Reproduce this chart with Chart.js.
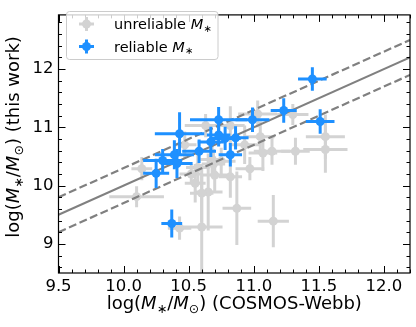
<!DOCTYPE html>
<html>
<head>
<meta charset="utf-8">
<script src="https://cdn.jsdelivr.net/npm/chart.js@4.4.1/dist/chart.umd.min.js"></script>
<style>
  html, body { margin: 0; padding: 0; background: #fff; }
</style>
</head>
<body>
<canvas id="myChart" width="416" height="327"></canvas>
<script>
// unreliable stellar masses (grey)
const unreliableX    = [11.55, 11.55, 11.32, 11.14, 11.07, 11.05, 11.30, 11.03, 10.82, 10.70, 10.69, 10.65, 10.60, 10.87, 11.15, 10.60, 10.43, 10.10, 10.52, 10.57, 10.68, 10.75, 10.14, 10.82, 10.63, 10.93, 10.47, 10.97, 10.55];
const unreliableY    = [10.84, 10.62, 10.59, 10.59, 10.56, 10.84, 11.22, 11.23, 10.15, 10.18, 10.37, 9.89, 9.87, 9.61, 9.39, 9.29, 9.27, 9.81, 10.20, 10.31, 10.45, 10.42, 10.29, 11.03, 11.03, 10.70, 10.70, 10.29, 10.04];
const unreliableXErr = [0.15, 0.17, 0.11, 0.14, 0.11, 0.11, 0.12, 0.15, 0.09, 0.11, 0.09, 0.11, 0.09, 0.11, 0.12, 0.16, 0.09, 0.21, 0.09, 0.09, 0.09, 0.11, 0.08, 0.11, 0.16, 0.12, 0.09, 0.11, 0.08];
const unreliableYErr = [0.38, 0.40, 0.23, 0.23, 0.31, 0.26, 0.18, 0.23, 0.36, 0.30, 0.26, 0.66, 0.50, 0.63, 0.45, 0.90, 0.20, 0.18, 0.17, 0.25, 0.25, 0.23, 0.20, 0.33, 0.20, 0.33, 0.23, 0.20, 0.33];

// reliable stellar masses (blue)
const reliableX    = [11.45, 11.23, 11.51, 10.99, 10.73, 10.43, 10.73, 10.67, 10.78, 10.86, 10.58, 10.82, 10.39, 10.30, 10.41, 10.25, 10.37];
const reliableY    = [11.83, 11.29, 11.10, 11.13, 11.13, 10.89, 10.87, 10.75, 10.81, 10.82, 10.59, 10.53, 10.53, 10.43, 10.38, 10.21, 9.35];
const reliableXErr = [0.11, 0.10, 0.11, 0.13, 0.22, 0.19, 0.09, 0.10, 0.12, 0.10, 0.13, 0.09, 0.15, 0.15, 0.12, 0.10, 0.08];
const reliableYErr = [0.20, 0.21, 0.21, 0.21, 0.22, 0.37, 0.20, 0.26, 0.20, 0.20, 0.20, 0.20, 0.25, 0.20, 0.25, 0.25, 0.24];

// one-to-one line and +-0.3 dex envelope
const lineX  = [9.5, 12.2];
const lineY  = [9.5, 12.2];
const upperY = [9.8, 12.5];
const lowerY = [9.2, 11.9];

const xTicks = [9.5, 10.0, 10.5, 11.0, 11.5, 12.0];
const yTicks = [9, 10, 11, 12];

const FONT = '"DejaVu Sans", sans-serif';
const grey = '#d3d3d3';
const blue = '#1e90ff';

function pts(xs, ys) { return xs.map((x, i) => ({ x: x, y: ys[i] })); }

const errorBars = {
  id: 'errorBars',
  beforeDatasetDraw(chart, args) {
    const ds = chart.data.datasets[args.index];
    if (!ds.xErr) return;
    const xs = chart.scales.x, ys = chart.scales.y, ctx = chart.ctx, a = chart.chartArea;
    ctx.save();
    ctx.beginPath();
    ctx.rect(a.left, a.top, a.right - a.left, a.bottom - a.top);
    ctx.clip();
    ctx.strokeStyle = ds.backgroundColor;
    ctx.lineWidth = 3;
    ds.data.forEach((p, i) => {
      const px = xs.getPixelForValue(p.x), py = ys.getPixelForValue(p.y);
      ctx.beginPath();
      ctx.moveTo(xs.getPixelForValue(p.x - ds.xErr[i]), py);
      ctx.lineTo(xs.getPixelForValue(p.x + ds.xErr[i]), py);
      ctx.moveTo(px, ys.getPixelForValue(p.y - ds.yErr[i]));
      ctx.lineTo(px, ys.getPixelForValue(p.y + ds.yErr[i]));
      ctx.stroke();
    });
    ctx.restore();
  }
};

// text pieces: n = normal, i = italic, s = subscript
function fontFor(p, size) {
  if (p.k === 'i') return 'italic ' + size + 'px ' + FONT;
  if (p.k === 's') return (size * 0.7) + 'px ' + FONT;
  return size + 'px ' + FONT;
}
function richWidth(ctx, parts, size) {
  let w = 0;
  parts.forEach(p => { ctx.font = fontFor(p, size); w += ctx.measureText(p.t).width; });
  return w;
}
function drawRich(ctx, parts, x, y, size) {
  parts.forEach(p => {
    ctx.font = fontFor(p, size);
    ctx.fillText(p.t, x, p.k === 's' ? y + size * 0.2 : y);
    x += ctx.measureText(p.t).width;
  });
}
const mStar = [{ t: 'M', k: 'i' }, { t: '\u2217', k: 's' }];
const massLabel = [{ t: 'log(', k: 'n' }].concat(mStar, [{ t: '/', k: 'n' }, { t: 'M', k: 'i' }, { t: '\u2299', k: 's' }]);
const xTitle = massLabel.concat([{ t: ') (COSMOS-Webb)', k: 'n' }]);
const yTitle = massLabel.concat([{ t: ') (this work)', k: 'n' }]);

const decorations = {
  id: 'decorations',
  afterDraw(chart) {
    const ctx = chart.ctx, a = chart.chartArea, xs = chart.scales.x, ys = chart.scales.y;
    ctx.save();
    // inward ticks on all sides
    ctx.strokeStyle = '#000';
    ctx.lineWidth = 1;
    const tick = (x1, y1, x2, y2) => { ctx.beginPath(); ctx.moveTo(x1, y1); ctx.lineTo(x2, y2); ctx.stroke(); };
    for (let v = 9.5; v <= 12.2001; v += 0.1) {
      const major = xTicks.some(t => Math.abs(t - v) < 1e-6);
      const len = major ? 7 : 3.5;
      const px = Math.round(xs.getPixelForValue(v)) + 0.5;
      tick(px, a.bottom, px, a.bottom - len);
      tick(px, a.top, px, a.top + len);
    }
    for (let v = 8.6; v <= 12.9; v += 0.2) {
      const major = yTicks.some(t => Math.abs(t - v) < 1e-6);
      const len = major ? 7 : 3.5;
      const py = Math.round(ys.getPixelForValue(v)) + 0.5;
      tick(a.left, py, a.left + len, py);
      tick(a.right, py, a.right - len, py);
    }
    ctx.lineWidth = 1.2;
    ctx.strokeRect(a.left, a.top, a.right - a.left, a.bottom - a.top);

    // axis titles
    ctx.fillStyle = '#000';
    ctx.textBaseline = 'alphabetic';
    ctx.textAlign = 'left';
    const ts = 18;
    const wx = richWidth(ctx, xTitle, ts);
    drawRich(ctx, xTitle, (a.left + a.right) / 2 - wx / 2, 309, ts);
    const wy = richWidth(ctx, yTitle, ts);
    ctx.save();
    ctx.translate(19, (a.top + a.bottom) / 2 - 7);
    ctx.rotate(-Math.PI / 2);
    drawRich(ctx, yTitle, -wy / 2, 0, ts);
    ctx.restore();

    // legend
    const lx = 66.5, ly = 11.5, lw = 151.5, lh = 48;
    ctx.beginPath();
    ctx.roundRect(lx, ly, lw, lh, 3);
    ctx.fillStyle = 'rgba(255,255,255,0.8)';
    ctx.fill();
    ctx.strokeStyle = '#cccccc';
    ctx.lineWidth = 1;
    ctx.stroke();
    const entry = (color, cy, label) => {
      ctx.strokeStyle = color;
      ctx.fillStyle = color;
      ctx.lineWidth = 3;
      ctx.beginPath();
      ctx.moveTo(79, cy); ctx.lineTo(94, cy);
      ctx.moveTo(86.5, cy - 7); ctx.lineTo(86.5, cy + 7);
      ctx.stroke();
      ctx.beginPath();
      ctx.arc(86.5, cy, 4.5, 0, Math.PI * 2);
      ctx.fill();
      ctx.fillStyle = '#000';
      drawRich(ctx, [{ t: label + ' ', k: 'n' }].concat(mStar), 114, cy + 5, 14.5);
    };
    entry(grey, 24, 'unreliable');
    entry(blue, 46.5, 'reliable');
    ctx.restore();
  }
};

const ctx = document.getElementById('myChart').getContext('2d');
const myChart = new Chart(ctx, {
  type: 'scatter',
  data: {
    datasets: [
      {
        label: 'unreliable',
        data: pts(unreliableX, unreliableY),
        xErr: unreliableXErr, yErr: unreliableYErr,
        backgroundColor: grey, borderWidth: 0, pointRadius: 4.5,
        order: 3
      },
      {
        type: 'line', data: pts(lineX, lineY),
        borderColor: '#808080', borderWidth: 2, pointRadius: 0, order: 2
      },
      {
        type: 'line', data: pts(lineX, upperY),
        borderColor: '#808080', borderWidth: 2.2, borderDash: [8, 3.5], pointRadius: 0, order: 2
      },
      {
        type: 'line', data: pts(lineX, lowerY),
        borderColor: '#808080', borderWidth: 2.2, borderDash: [8, 3.5], pointRadius: 0, order: 2
      },
      {
        label: 'reliable',
        data: pts(reliableX, reliableY),
        xErr: reliableXErr, yErr: reliableYErr,
        backgroundColor: blue, borderWidth: 0, pointRadius: 4.5,
        order: 1
      }
    ]
  },
  options: {
    responsive: false,
    animation: false,
    devicePixelRatio: 1,
    layout: { padding: { top: 5, right: 6, left: 0, bottom: 0 } },
    plugins: { legend: { display: false }, tooltip: { enabled: false } },
    scales: {
      x: {
        type: 'linear', min: 9.5, max: 12.2,
        grid: { display: false, drawTicks: false },
        border: { display: false },
        afterBuildTicks: s => { s.ticks = xTicks.map(v => ({ value: v })); },
        afterFit: s => { s.height = 54; },
        ticks: {
          padding: 4, color: '#000', maxRotation: 0,
          font: { family: 'DejaVu Sans', size: 16.5 },
          callback: v => v.toFixed(1)
        }
      },
      y: {
        type: 'linear', min: 8.5, max: 12.93,
        grid: { display: false, drawTicks: false },
        border: { display: false },
        afterBuildTicks: s => { s.ticks = yTicks.map(v => ({ value: v })); },
        afterFit: s => { s.width = 58.5; },
        ticks: {
          padding: 5, color: '#000',
          font: { family: 'DejaVu Sans', size: 16.5 },
          callback: v => String(v)
        }
      }
    }
  },
  plugins: [errorBars, decorations]
});
</script>
</body>
</html>
